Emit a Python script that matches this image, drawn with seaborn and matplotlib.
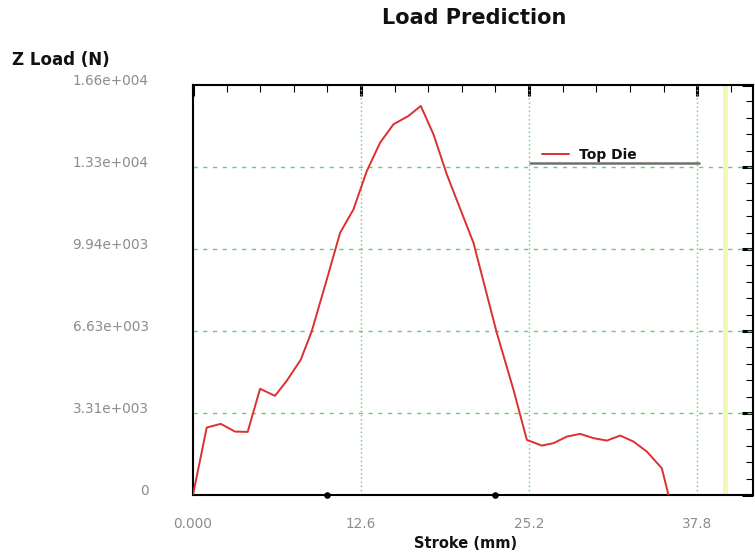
#!/usr/bin/env python3
"""Load prediction chart: Z load vs stroke for the top die."""

import numpy as np
import pandas as pd
import matplotlib
matplotlib.use("Agg")
import matplotlib.pyplot as plt
import matplotlib.transforms as mtransforms
from matplotlib.lines import Line2D
from matplotlib.ticker import MultipleLocator, FixedLocator
import seaborn as sns

# Data
stroke_mm = [0.0, 1.03, 2.08, 3.15, 4.1, 5.03, 6.15, 7.03, 8.08, 8.9, 10.03,
             11.03, 12.03, 13.03, 14.03, 15.03, 16.15, 17.08, 18.03, 19.03,
             20.15, 21.03, 22.78, 24.03, 25.03, 26.15, 27.03, 28.03, 29.03,
             30.03, 31.03, 32.03, 33.03, 34.03, 35.15, 35.65]
z_load_n = [0, 2725, 2875, 2563, 2550, 4292, 4008, 4616, 5466, 6612, 8705,
            10596, 11540, 13091, 14240, 14981, 15318, 15723, 14576, 12957,
            11406, 10191, 6547, 4251, 2227, 1997, 2093, 2361, 2470,
            2296, 2199, 2402, 2158, 1753, 1081, 0]
series_name = "Top Die"

y_max = 16570
y_ticks = [0, 3314, 6628, 9942, 13256, 16570]
y_tick_labels = ["0", "3.31e+003", "6.63e+003", "9.94e+003", "1.33e+004", "1.66e+004"]
x_max = 42.0
x_ticks = [0.0, 12.6, 25.2, 37.8]
x_tick_labels = ["0.000", "12.6", "25.2", "37.8"]
marker_strokes = [10.08, 22.68]
limit_stroke = 39.9

df = pd.DataFrame({"Stroke (mm)": stroke_mm, "Z Load (N)": z_load_n,
                   "series": series_name})

sns.set_style("white")
plt.rcParams["font.family"] = ["DejaVu Sans"]
plt.rcParams["text.color"] = "#111111"

fig = plt.figure(figsize=(7.55, 5.53), dpi=100)
ax = fig.add_axes([0.2556, 0.1049, 0.742, 0.7414])

grid_green = "#6ccc6c"
ax.axvline(limit_stroke, color="#f6f6b8", lw=3.5, zorder=1)
for xv in x_ticks[1:]:
    ax.axvline(xv, color=grid_green, lw=1, ls=(0, (1, 2)), zorder=1)
for yv in y_ticks[1:-1]:
    ax.axhline(yv, color=grid_green, lw=1, ls=(0, (3, 4)), zorder=1)

sns.lineplot(data=df, x="Stroke (mm)", y="Z Load (N)", hue="series",
             palette=["#dc3030"], lw=1.4, ax=ax, legend=False, zorder=3)

ax.scatter(marker_strokes, [0] * len(marker_strokes), s=14, color="black",
           clip_on=False, zorder=5)

ax.set_xlim(0, x_max)
ax.set_ylim(0, y_max)

ax.xaxis.set_major_locator(FixedLocator(x_ticks))
ax.xaxis.set_minor_locator(MultipleLocator(2.52))
ax.yaxis.set_major_locator(FixedLocator(y_ticks))
ax.yaxis.set_minor_locator(MultipleLocator(y_max / 25))
ax.set_xticklabels(x_tick_labels)
ax.set_yticklabels(y_tick_labels)

ax.tick_params(which="both", direction="in", top=True, right=True,
               color="black", labelcolor="#8c8c8c", labelsize=9.8)
ax.tick_params(which="major", length=8, width=2.2)
ax.tick_params(which="minor", length=5, width=0.8)
ax.tick_params(axis="y", which="major", pad=32)
ax.tick_params(axis="x", which="major", pad=16)

# y tick labels sit a little above their ticks
offset = mtransforms.ScaledTranslation(0, 5 / 100, fig.dpi_scale_trans)
for lab in ax.get_yticklabels():
    lab.set_transform(lab.get_transform() + offset)

for side in ["left", "bottom", "top", "right"]:
    ax.spines[side].set_color("black")
    ax.spines[side].set_linewidth(1.5)

ax.set_xlabel("")
ax.set_ylabel("")

# legend entry with its grey underline
ax.legend(handles=[Line2D([], [], color="#dc3030", lw=1.4)],
          labels=[series_name], loc="center left",
          bbox_to_anchor=(0.6, 0.829), frameon=False, handlelength=2.0,
          handletextpad=0.7, prop={"weight": "bold", "size": 10})
ax.add_line(Line2D([0.602, 0.904], [0.81, 0.81],
                   transform=ax.transAxes, color="#707070", lw=1.8))

fig.text(0.6285, 0.967, "Load Prediction", ha="center", va="center",
         fontsize=15, fontweight="bold")
fig.text(0.016, 0.8915, "Z Load (N)", ha="left", va="center",
         fontsize=12, fontweight="bold")
fig.text(0.616, 0.018, "Stroke (mm)", ha="center", va="center",
         fontsize=10.5, fontweight="bold")

fig.savefig("out.png", dpi=100)
